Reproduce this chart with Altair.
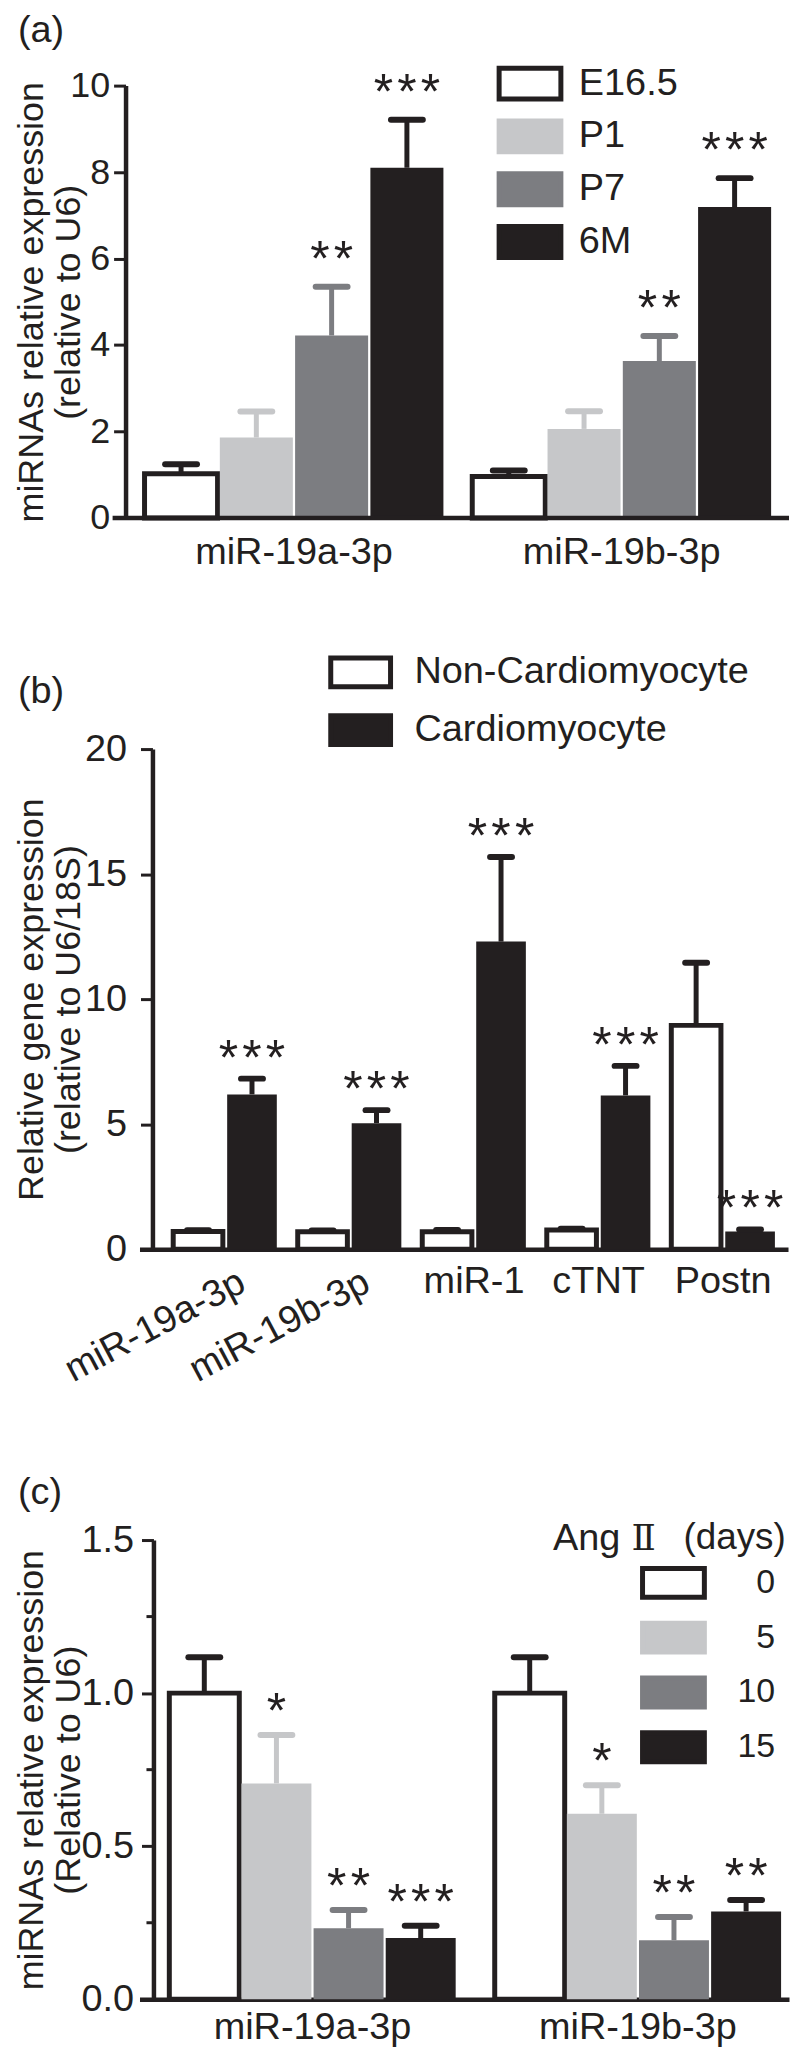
import altair as alt
import pandas as pd

SANS = "Liberation Sans, Arial, Helvetica, DejaVu Sans, sans-serif"
SERIF = "DejaVu Serif, Liberation Serif, serif"
INK = "#231f20"
LIGHT = "#c6c7c9"
MID = "#7c7d81"
WHITE = "#ffffff"

# ---------------- (a) developmental stages ----------------
a_genes = ["miR-19a-3p", "miR-19b-3p"]
a_stages = ["E16.5", "P1", "P7", "6M"]
a_mean_19a = [1.02, 1.86, 4.22, 8.10]
a_sem_19a = [0.22, 0.60, 1.13, 1.11]
a_mean_19b = [0.96, 2.06, 3.63, 7.19]
a_sem_19b = [0.14, 0.41, 0.58, 0.67]
a_sig_19a = ["", "", "**", "***"]
a_sig_19b = ["", "", "**", "***"]
a_yticks = [0, 2, 4, 6, 8, 10]

# ---------------- (b) cell types ----------------
b_genes = ["miR-19a-3p", "miR-19b-3p", "miR-1", "cTNT", "Postn"]
b_cells = ["Non-Cardiomyocyte", "Cardiomyocyte"]
b_mean_non = [0.71, 0.70, 0.70, 0.77, 8.95]
b_sem_non = [0.05, 0.05, 0.07, 0.05, 2.50]
b_mean_cm = [6.19, 5.04, 12.30, 6.15, 0.71]
b_sem_cm = [0.63, 0.52, 3.38, 1.18, 0.08]
b_sig_non = ["", "", "", "", ""]
b_sig_cm = ["***", "***", "***", "***", "***"]
b_yticks = [0, 5, 10, 15, 20]
b_rotated = ["miR-19a-3p", "miR-19b-3p"]

# ---------------- (c) Ang II treatment ----------------
c_genes = ["miR-19a-3p", "miR-19b-3p"]
c_days = ["0", "5", "10", "15"]
c_mean_19a = [1.00, 0.705, 0.232, 0.200]
c_sem_19a = [0.117, 0.158, 0.060, 0.040]
c_mean_19b = [1.00, 0.606, 0.193, 0.287]
c_sem_19b = [0.117, 0.093, 0.076, 0.037]
c_sig_19a = ["", "*", "**", "***"]
c_sig_19b = ["", "*", "**", "**"]
c_yticks = [0.0, 0.5, 1.0, 1.5]
c_minor = [0.25, 0.75, 1.25]
c_legend_title = ["Ang", "\u2161", "(days)"]


def build(genes, series, means, sems, sigs):
    rows = []
    for g, ms, ss, sg in zip(genes, means, sems, sigs):
        for ser, m, s, st in zip(series, ms, ss, sg):
            rows.append(dict(gene=g, series=ser, mean=m, upper=m + s,
                             stars="\u200a".join(list(st))))
    return pd.DataFrame(rows)


df_a = build(a_genes, a_stages, [a_mean_19a, a_mean_19b],
             [a_sem_19a, a_sem_19b], [a_sig_19a, a_sig_19b])
df_b = build(b_genes, b_cells,
             [list(t) for t in zip(b_mean_non, b_mean_cm)],
             [list(t) for t in zip(b_sem_non, b_sem_cm)],
             [list(t) for t in zip(b_sig_non, b_sig_cm)])
df_c = build(c_genes, c_days, [c_mean_19a, c_mean_19b],
             [c_sem_19a, c_sem_19b], [c_sig_19a, c_sig_19b])


def rect_path(ratio):
    return f"M{-ratio},-1H{ratio}V1H{-ratio}Z"


def make_legend(x, y, ratio, size, offset, row_pad, font_size, **more):
    kw = dict(title=None, orient="none", legendX=x, legendY=y, direction="vertical",
              symbolType=rect_path(ratio), symbolSize=size, symbolStrokeWidth=5,
              symbolOpacity=1, labelFont=SANS, labelFontSize=font_size, labelColor=INK,
              labelOffset=offset, rowPadding=row_pad, padding=0, labelLimit=1000)
    kw.update(more)
    return alt.Legend(**kw)


def label_text(text, x, y, size=38, font=SANS, **kw):
    return alt.Chart(pd.DataFrame({"t": [text]})).mark_text(
        font=font, fontSize=size, color=INK, align="left", baseline="top", **kw
    ).encode(x=alt.value(x), y=alt.value(y), text="t:N")


def panel(df, genes, series, fills, strokes, white, yrange_h, ydom, yticks,
          yfmt, xpad, xo_pad, y_off, tick_size, tick_font, tick_pad, ytitle, title_x,
          xaxis, legend, cap_size, star_dy):
    x = alt.X("gene:N", sort=genes,
              scale=alt.Scale(paddingInner=xpad[0], paddingOuter=xpad[1], align=xpad[2]),
              axis=alt.Axis(**xaxis))
    xo = alt.XOffset("series:N", sort=series,
                     scale=alt.Scale(paddingInner=xo_pad, paddingOuter=0))
    ysc = alt.Scale(domain=ydom, nice=False, zero=True, range=[yrange_h, 0])
    yax = alt.Axis(values=yticks, format=yfmt, offset=y_off, tickSize=tick_size,
                   tickWidth=3, domainWidth=4.5, labelFontSize=tick_font, labelFont=SANS,
                   labelPadding=tick_pad, title=ytitle, titleFont=SANS, titleFontSize=36,
                   titleFontWeight="normal", titleAngle=270, titleAlign="center",
                   titleBaseline="alphabetic", titleLineHeight=37, titleX=title_x,
                   titleY=yrange_h / 2, titleLimit=2000, labelColor=INK, titleColor=INK,
                   tickColor=INK, domainColor=INK, grid=False)
    fill_sc = alt.Scale(domain=series, range=fills)
    stroke_sc = alt.Scale(domain=series, range=strokes)
    base = alt.Chart(df)
    bars = base.mark_bar().encode(
        x=x, xOffset=xo,
        y=alt.Y("mean:Q", scale=ysc, axis=yax),
        fill=alt.Fill("series:N", sort=series, scale=fill_sc, legend=legend),
        stroke=alt.Stroke("series:N", sort=series, scale=stroke_sc, legend=legend),
        strokeWidth=alt.condition(alt.datum.series == white, alt.value(5), alt.value(0)),
    )
    err = base.mark_rule(strokeWidth=5).encode(
        x=x, xOffset=xo, y=alt.Y("mean:Q", scale=ysc), y2="upper:Q",
        stroke=alt.Stroke("series:N", sort=series, scale=stroke_sc, legend=legend),
    )
    caps = base.mark_point(shape="M-1,0H1", filled=False, size=cap_size,
                           strokeWidth=6, strokeCap="round", opacity=1).encode(
        x=x, xOffset=xo, y=alt.Y("upper:Q", scale=ysc),
        stroke=alt.Stroke("series:N", sort=series, scale=stroke_sc, legend=legend),
    )
    stars = base.mark_text(font=SANS, fontSize=50, color=INK, baseline="alphabetic",
                           align="center", dy=star_dy).encode(
        x=x, xOffset=xo, y=alt.Y("upper:Q", scale=ysc), text="stars:N",
    )
    return x, ysc, [bars, err, caps, stars]


def xaxis_kw(pad, size=38, expr=None, domain=True, offset=0):
    kw = dict(title=None, ticks=False, tickSize=0, domain=domain, domainWidth=4.5,
              domainColor=INK, labelAngle=0, labelFont=SANS, labelFontSize=size,
              labelColor=INK, labelPadding=pad, labelLimit=1000, offset=offset)
    if expr:
        kw["labelExpr"] = expr
    return kw


L = 140  # page x of every plot's left edge

# ---------- panel (a) ----------
Wa, Ha = 652, 434
xa, ysa, layers_a = panel(
    df_a, a_genes, a_stages, [WHITE, LIGHT, MID, INK], [INK, LIGHT, MID, INK], "E16.5",
    yrange_h=Ha, ydom=[0, 10], yticks=a_yticks, yfmt="d",
    xpad=(0.088, 0.035, 0.22), xo_pad=0.03, y_off=14, tick_size=12, tick_font=36,
    tick_pad=4, ytitle=["miRNAs relative expression", "(relative to U6)"],
    title_x=-83, xaxis=xaxis_kw(16, domain=False),
    legend=make_legend(373, -21, 2.0, 961, 30, 1, 38),
    cap_size=1024, star_dy=-11,
)
base_line_a = alt.Chart(pd.DataFrame({"v": [0]})).mark_rule(
    color=INK, strokeWidth=4.5).encode(
    y=alt.Y("v:Q", scale=ysa), x=alt.value(-27), x2=alt.value(Wa))
pin = alt.Chart(pd.DataFrame({"v": [0]})).mark_rule(
    opacity=0, strokeWidth=1).encode(
    x=alt.value(-131.5), x2=alt.value(-131), y=alt.value(200), y2=alt.value(201))
chart_a = alt.layer(
    *layers_a, base_line_a, pin, label_text("(a)", 18 - L, -74)
).properties(width=Wa, height=Ha)

# ---------- panel (b) ----------
Wb, Hb, Hb_group = 651, 502, 562
hide_expr = ("indexof([" + ",".join(f"'{g}'" for g in b_rotated)
             + "], datum.value) >= 0 ? '' : datum.value")
xb, ysb, layers_b = panel(
    df_b, b_genes, b_cells, [WHITE, INK], [INK, INK], "Non-Cardiomyocyte",
    yrange_h=Hb, ydom=[0, 20], yticks=b_yticks, yfmt="d",
    xpad=(0.168, 0.188, 0.72), xo_pad=0.08, y_off=-13, tick_size=12, tick_font=38,
    tick_pad=14, ytitle=["Relative gene expression", "(relative to U6/18S)"],
    title_x=-110, xaxis=xaxis_kw(14, expr=hide_expr, offset=Hb - Hb_group),
    legend=make_legend(203, -96, 2.07, 841, 35, 8, 38),
    cap_size=484, star_dy=-4,
)
rot_labels = alt.Chart(pd.DataFrame({"gene": b_rotated})).mark_text(
    font=SANS, fontSize=38, color=INK, angle=332, align="right", baseline="top", dx=10
).encode(x=xb, y=alt.value(Hb + 19), text="gene:N")
chart_b = alt.layer(
    *layers_b, rot_labels, label_text("(b)", 18 - L, -76)
).properties(width=Wb, height=Hb_group)

# ---------- panel (c) ----------
Wc, Hc = 652, 461
xc, ysc_c, layers_c = panel(
    df_c, c_genes, c_days, [WHITE, LIGHT, MID, INK], [INK, LIGHT, MID, INK], "0",
    yrange_h=Hc, ydom=[0, 1.5], yticks=c_yticks, yfmt=".1f",
    xpad=(0.12, 0.058, 0.79), xo_pad=0.03, y_off=-14, tick_size=12, tick_font=38,
    tick_pad=8, ytitle=["miRNAs relative expression", "(Relative to U6)"],
    title_x=-111, xaxis=xaxis_kw(9, size=38),
    legend=make_legend(519, 26, 2.14, 841, 85, 5, 34, labelAlign="right"),
    cap_size=1024, star_dy=-7,
)
minor = alt.Chart(pd.DataFrame({"v": c_minor})).mark_rule(
    color=INK, strokeWidth=3).encode(
    y=alt.Y("v:Q", scale=ysc_c), x=alt.value(7), x2=alt.value(14))
chart_c = alt.layer(
    *layers_c, minor, label_text("(c)", 18 - L, -66),
    label_text(c_legend_title[0], 555 - L, -20),
    label_text(c_legend_title[1], 634 - L, -18, size=36, font=SERIF),
    label_text(c_legend_title[2], 686 - L, -20, size=37),
).properties(width=Wc, height=Hc)

chart = alt.vconcat(chart_a, chart_b, chart_c, spacing=232, bounds="flush").resolve_scale(
    fill="independent", stroke="independent", x="independent", y="independent",
    xOffset="independent"
).properties(padding={"left": 0, "top": 0, "right": 0, "bottom": 0}).configure_view(
    stroke=None
).configure_axis(grid=False)

chart.save("out.html", embed_options={"renderer": "svg", "actions": False})
